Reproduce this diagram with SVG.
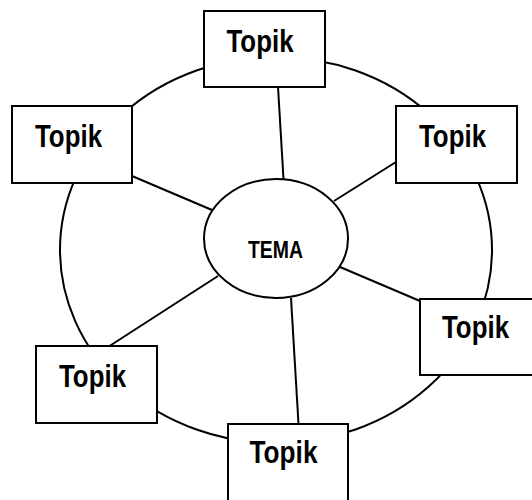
<svg xmlns="http://www.w3.org/2000/svg" width="532" height="500" viewBox="0 0 532 500">
<style>
.box{fill:#fff;stroke:#000;stroke-width:2}
.ln{fill:none;stroke:#000;stroke-width:2}
.t{font-family:"Liberation Sans Narrow","Liberation Sans",Arial,sans-serif;font-weight:bold;font-size:32px;fill:#000}
.tm{font-family:"Liberation Sans Narrow","Liberation Sans",Arial,sans-serif;font-weight:bold;font-size:23px;fill:#000}
</style>
<rect width="532" height="500" fill="#fff"/>
<g id="connectors">
<ellipse class="ln" cx="276" cy="250" rx="216" ry="193"/>
<line class="ln" x1="278" y1="87" x2="283.5" y2="179"/>
<line class="ln" x1="132" y1="176" x2="212" y2="210"/>
<line class="ln" x1="396" y1="162" x2="334" y2="201"/>
<line class="ln" x1="108" y1="347" x2="218" y2="276"/>
<line class="ln" x1="298.5" y1="424" x2="291" y2="298"/>
<line class="ln" x1="420" y1="301" x2="340" y2="267"/>
</g>
<g id="tema">
<ellipse class="box" cx="276" cy="238.5" rx="72" ry="59.5"/>
<text class="tm" x="248" y="258" textLength="55" lengthAdjust="spacingAndGlyphs">TEMA</text>
</g>
<g id="topik-top">
<rect class="box" x="204" y="11" width="121" height="76"/>
<text class="t" x="226.5" y="52" textLength="67" lengthAdjust="spacingAndGlyphs">Topik</text>
</g>
<g id="topik-left">
<rect class="box" x="12" y="106" width="120" height="77"/>
<text class="t" x="35" y="147" textLength="67" lengthAdjust="spacingAndGlyphs">Topik</text>
</g>
<g id="topik-right">
<rect class="box" x="396" y="106" width="121" height="77"/>
<text class="t" x="419" y="147" textLength="67" lengthAdjust="spacingAndGlyphs">Topik</text>
</g>
<g id="topik-lowerleft">
<rect class="box" x="36" y="346" width="121" height="77"/>
<text class="t" x="59" y="387" textLength="67" lengthAdjust="spacingAndGlyphs">Topik</text>
</g>
<g id="topik-bottom">
<rect class="box" x="228" y="424" width="120" height="78"/>
<text class="t" x="249.5" y="463" textLength="68" lengthAdjust="spacingAndGlyphs">Topik</text>
</g>
<g id="topik-lowerright">
<rect class="box" x="420" y="299" width="121" height="76"/>
<text class="t" x="442" y="338" textLength="67" lengthAdjust="spacingAndGlyphs">Topik</text>
</g>
</svg>
